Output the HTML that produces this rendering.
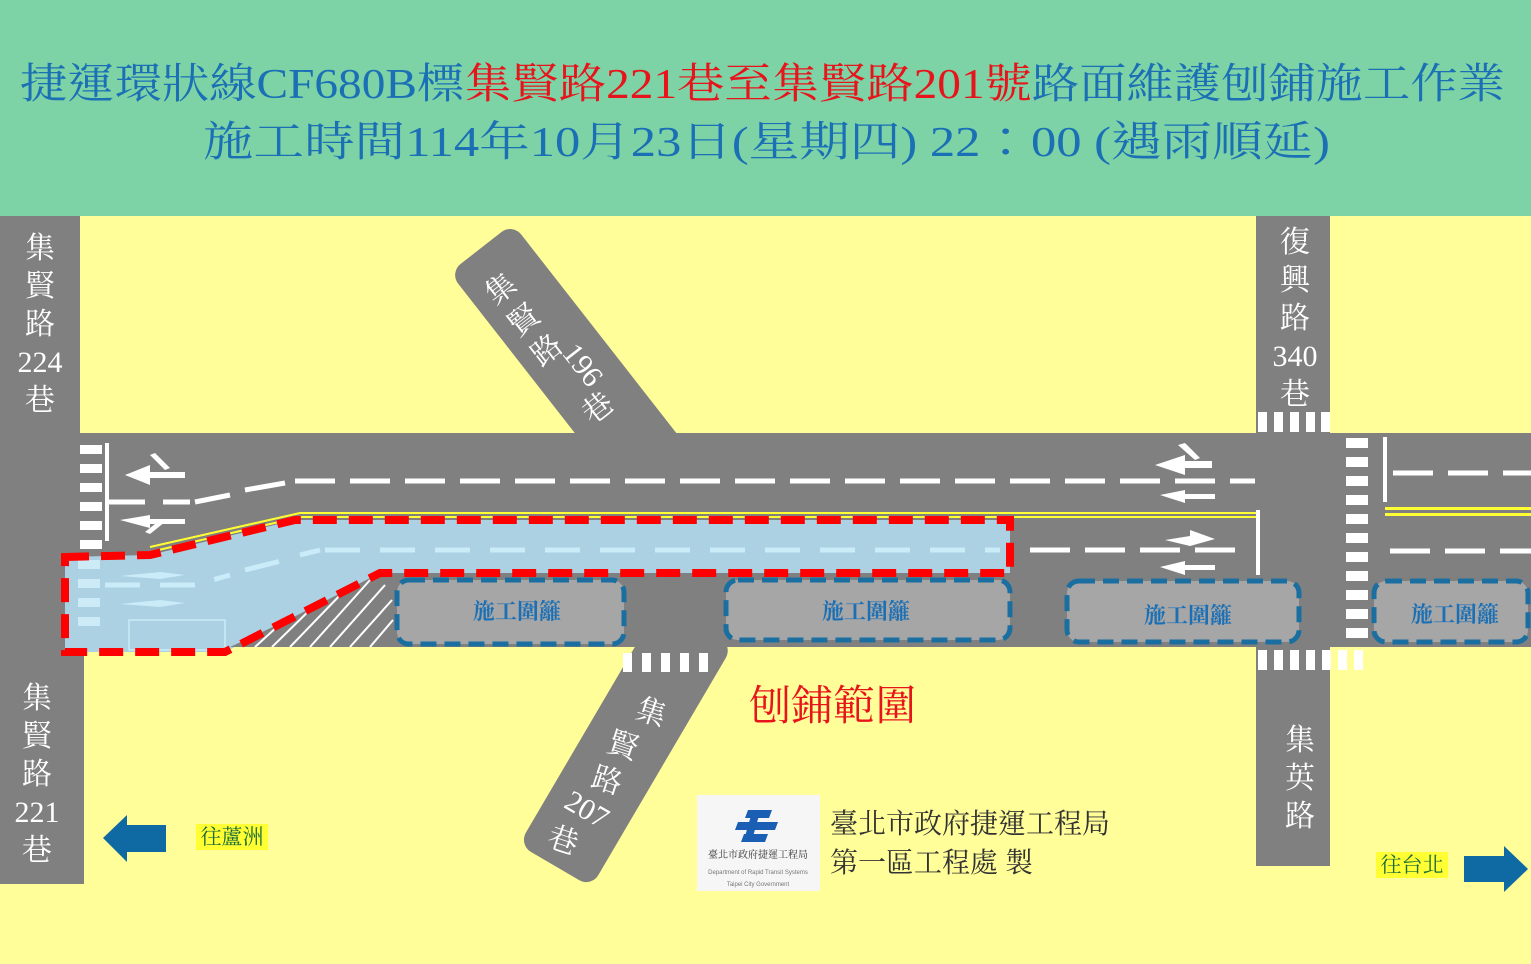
<!DOCTYPE html>
<html><head><meta charset="utf-8"><style>
html,body{margin:0;padding:0;background:#fffe99;}
svg{display:block;}
.s{font-family:"Liberation Serif","Noto Serif CJK TC","Noto Serif CJK SC",serif;}
.w{fill:#fff;font-size:30px;font-family:"Liberation Serif","Noto Serif CJK TC","Noto Serif CJK SC",serif;text-anchor:middle;}
.b{fill:#1a6fb5;font-size:22px;font-weight:bold;font-family:"Liberation Serif","Noto Serif CJK TC","Noto Serif CJK SC",serif;text-anchor:middle;}
</style></head><body>
<svg width="1531" height="964" viewBox="0 0 1531 964" xmlns="http://www.w3.org/2000/svg">
<rect width="1531" height="964" fill="#fffe99"/>
<rect width="1531" height="216" fill="#7dd3a6"/>
<text class="s" x="20" y="98" font-size="42" textLength="1485" lengthAdjust="spacingAndGlyphs" fill="#1a6fb5">捷運環狀線CF680B標<tspan fill="#e8141b">集賢路221巷至集賢路201號</tspan>路面維護刨鋪施工作業</text>
<text class="s" x="203" y="156" font-size="42" textLength="1127" lengthAdjust="spacingAndGlyphs" fill="#1a6fb5">施工時間114年10月23日(星期四) 22：00 (遇雨順延)</text>

<!-- roads -->
<rect x="0" y="216" width="80" height="230" fill="#808080"/>
<rect x="0" y="433" width="1531" height="214" fill="#808080"/>
<rect x="0" y="640" width="84" height="244" fill="#808080"/>
<rect x="1256" y="216" width="74" height="650" fill="#808080"/>
<rect x="0" y="-40" width="300" height="80" rx="14" fill="#808080" transform="translate(481,248) rotate(52)"/>
<rect x="0" y="-42" width="280" height="84" rx="14" fill="#808080" transform="translate(555,866) rotate(-59.6)"/>

<!-- left crosswalk -->
<g fill="#fff">
<rect x="80" y="445" width="22" height="9"/><rect x="80" y="464" width="22" height="9"/><rect x="80" y="483" width="22" height="9"/><rect x="80" y="502" width="22" height="9"/><rect x="80" y="521" width="22" height="9"/><rect x="80" y="540" width="22" height="9"/>
<rect x="105" y="443" width="4" height="98"/>
</g>
<path d="M109 502 H145 M163 502 H190 M195 502 L230 495 M245 490 L285 483" stroke="#fff" stroke-width="5"/>
<line x1="295" y1="481" x2="1255" y2="481" stroke="#fff" stroke-width="5" stroke-dasharray="40 15"/>
<path d="M150 547 L300 513 H1256" stroke="#ffff33" stroke-width="2" fill="none"/>
<path d="M150 552 L300 517 H1256" stroke="#ffff33" stroke-width="2" fill="none"/>
<g fill="#fff">
<polygon points="125,475 150,465 150,472 185,472 185,478 150,478 150,485"/>
<polygon points="150,455 165,470 170,468 155,453"/>
<polygon points="120,520 150,515 150,519 185,519 185,524 150,524 150,528"/>
<polygon points="145,532 160,520 165,522 150,534"/>
</g>

<!-- blue zone -->
<polygon points="65,557 150,555 295,520 1010,520 1010,573 380,573 225,652 65,652" fill="#acd1e3"/>
<g fill="#d0eefa" opacity="0.9">
<rect x="78" y="560" width="22" height="9"/><rect x="78" y="579" width="22" height="9"/><rect x="78" y="598" width="22" height="9"/><rect x="78" y="617" width="22" height="9"/>
</g>
<path d="M105 585 H145 M160 585 H195 L230 575 M245 570 L285 560 M300 555 L320 550 M325 550 H1000" stroke="#c9ecf8" stroke-width="5" stroke-dasharray="35 20" fill="none"/>
<g fill="#c9ecf8"><polygon points="120,576 160,572 185,575 160,579"/><polygon points="120,604 160,600 185,603 160,607"/></g>
<rect x="129" y="620" width="96" height="30" fill="none" stroke="#c9ecf8" stroke-width="1.5"/>
<polygon points="230,647 380,577 395,577 395,647" fill="#808080"/>
<g stroke="#fff" stroke-width="2">
<line x1="255" y1="647" x2="290" y2="615"/><line x1="272" y1="647" x2="320" y2="600"/><line x1="290" y1="647" x2="345" y2="590"/><line x1="310" y1="647" x2="370" y2="580"/><line x1="330" y1="647" x2="385" y2="585"/><line x1="350" y1="647" x2="392" y2="600"/><line x1="370" y1="647" x2="393" y2="620"/>
</g>
<polygon points="65,557 150,555 295,520 1010,520 1010,573 380,573 225,652 65,652" fill="none" stroke="#f00" stroke-width="8" stroke-dasharray="24 12"/>

<!-- right side markings -->
<line x1="1030" y1="550" x2="1250" y2="550" stroke="#fff" stroke-width="5" stroke-dasharray="40 15"/>
<rect x="1256" y="510" width="4" height="65" fill="#fff"/>
<g fill="#fff">
<polygon points="1155,465 1185,455 1185,461 1212,461 1212,468 1185,468 1185,475"/>
<polygon points="1178,445 1195,460 1200,458 1185,443"/>
<polygon points="1160,495 1185,490 1185,494 1215,494 1215,499 1185,499 1185,503"/>
<polygon points="1165,540 1190,536 1190,530 1215,539 1190,546"/>
<polygon points="1160,567 1185,561 1185,565 1215,565 1215,570 1185,570 1185,575"/>
</g>
<g fill="#fff">
<rect x="1258" y="412" width="9" height="20"/><rect x="1274" y="412" width="9" height="20"/><rect x="1290" y="412" width="9" height="20"/><rect x="1306" y="412" width="9" height="20"/><rect x="1321" y="412" width="9" height="20"/>
<rect x="1258" y="650" width="9" height="20"/><rect x="1274" y="650" width="9" height="20"/><rect x="1290" y="650" width="9" height="20"/><rect x="1306" y="650" width="9" height="20"/><rect x="1322" y="650" width="9" height="20"/><rect x="1338" y="650" width="9" height="20"/><rect x="1354" y="650" width="9" height="20"/>
<rect x="1346" y="438" width="22" height="10"/><rect x="1346" y="457" width="22" height="10"/><rect x="1346" y="476" width="22" height="10"/><rect x="1346" y="495" width="22" height="10"/><rect x="1346" y="514" width="22" height="10"/><rect x="1346" y="533" width="22" height="10"/><rect x="1346" y="552" width="22" height="10"/><rect x="1346" y="571" width="22" height="10"/><rect x="1346" y="590" width="22" height="10"/><rect x="1346" y="609" width="22" height="10"/><rect x="1346" y="628" width="22" height="10"/>
<rect x="1383" y="437" width="4" height="65"/>
<rect x="623" y="653" width="9" height="19"/><rect x="642" y="653" width="9" height="19"/><rect x="661" y="653" width="9" height="19"/><rect x="680" y="653" width="9" height="19"/><rect x="699" y="653" width="9" height="19"/>
</g>
<line x1="1393" y1="473" x2="1531" y2="473" stroke="#fff" stroke-width="5" stroke-dasharray="40 15"/>
<line x1="1390" y1="551" x2="1531" y2="551" stroke="#fff" stroke-width="5" stroke-dasharray="40 15"/>
<rect x="1385" y="507" width="146" height="3" fill="#ffff33"/><rect x="1385" y="513" width="146" height="3" fill="#ffff33"/>

<!-- barriers -->
<g fill="#a6a6a6" stroke="#1a6fa0" stroke-width="5" stroke-dasharray="16 8">
<rect x="397" y="580" width="227" height="64" rx="12"/>
<rect x="726" y="580" width="284" height="60" rx="12"/>
<rect x="1067" y="581" width="232" height="61" rx="12"/>
<rect x="1374" y="581" width="154" height="61" rx="12"/>
</g>
<text class="b" x="517" y="619">施工圍籬</text>
<text class="b" x="866" y="619">施工圍籬</text>
<text class="b" x="1188" y="623">施工圍籬</text>
<text class="b" x="1455" y="622">施工圍籬</text>

<!-- road labels -->
<text class="w" x="40" y="258">集</text><text class="w" x="40" y="296">賢</text><text class="w" x="40" y="334">路</text><text class="w" x="40" y="372">224</text><text class="w" x="40" y="410">巷</text>
<text class="w" x="37" y="708">集</text><text class="w" x="37" y="746">賢</text><text class="w" x="37" y="784">路</text><text class="w" x="37" y="822">221</text><text class="w" x="37" y="860">巷</text>
<text class="w" x="1295" y="252">復</text><text class="w" x="1295" y="290">興</text><text class="w" x="1295" y="328">路</text><text class="w" x="1295" y="366">340</text><text class="w" x="1295" y="404">巷</text>
<text class="w" x="1300" y="750">集</text><text class="w" x="1300" y="788">英</text><text class="w" x="1300" y="826">路</text>
<text class="w" transform="translate(507,297) rotate(-38)">集</text>
<text class="w" transform="translate(530,328) rotate(-38)">賢</text>
<text class="w" transform="translate(553,358) rotate(-38)">路</text>
<text class="w" transform="translate(575,371) rotate(52)">196</text>
<text class="w" transform="translate(604,416) rotate(-38)">巷</text>
<text class="w" transform="translate(648,722) rotate(18)">集</text>
<text class="w" transform="translate(620,755) rotate(18)">賢</text>
<text class="w" transform="translate(604,790) rotate(18)">路</text>
<text class="w" transform="translate(582,818) rotate(30)">207</text>
<text class="w" transform="translate(560,850) rotate(18)">巷</text>

<text class="s" x="833" y="720" font-size="42" fill="#e8141b" text-anchor="middle">刨鋪範圍</text>

<!-- logo -->
<rect x="697" y="795" width="123" height="96" fill="#f6f6f6"/>
<g fill="#1a5fb4">
<polygon points="748,810 772,810 769,818 745,818"/>
<polygon points="738,822 778,822 775,830 735,830"/>
<polygon points="744,834 768,834 765,842 741,842"/>
<polygon points="752,812 760,812 752,840 744,840"/>
</g>
<text x="758" y="858" font-size="10" text-anchor="middle" fill="#333" class="s">臺北市政府捷運工程局</text>
<text x="758" y="874" font-size="6" text-anchor="middle" fill="#777" font-family="Liberation Sans,sans-serif">Department of Rapid Transit Systems</text>
<text x="758" y="886" font-size="6" text-anchor="middle" fill="#777" font-family="Liberation Sans,sans-serif">Taipei City Government</text>
<text class="s" x="830" y="833" font-size="28" fill="#333">臺北市政府捷運工程局</text>
<text class="s" x="830" y="872" font-size="28" fill="#333">第一區工程處 製</text>

<polygon points="103,838 127,815 127,825 166,825 166,852 127,852 127,862" fill="#0f6aa3"/>
<rect x="196" y="824" width="72" height="26" fill="#ffff33"/>
<text class="s" x="232" y="844" font-size="21" fill="#1a6b3a" text-anchor="middle">往蘆洲</text>
<polygon points="1528,869 1504,846 1504,856 1464,856 1464,882 1504,882 1504,892" fill="#0f6aa3"/>
<rect x="1376" y="852" width="72" height="26" fill="#ffff33"/>
<text class="s" x="1412" y="872" font-size="21" fill="#1a6b3a" text-anchor="middle">往台北</text>
</svg>
</body></html>
